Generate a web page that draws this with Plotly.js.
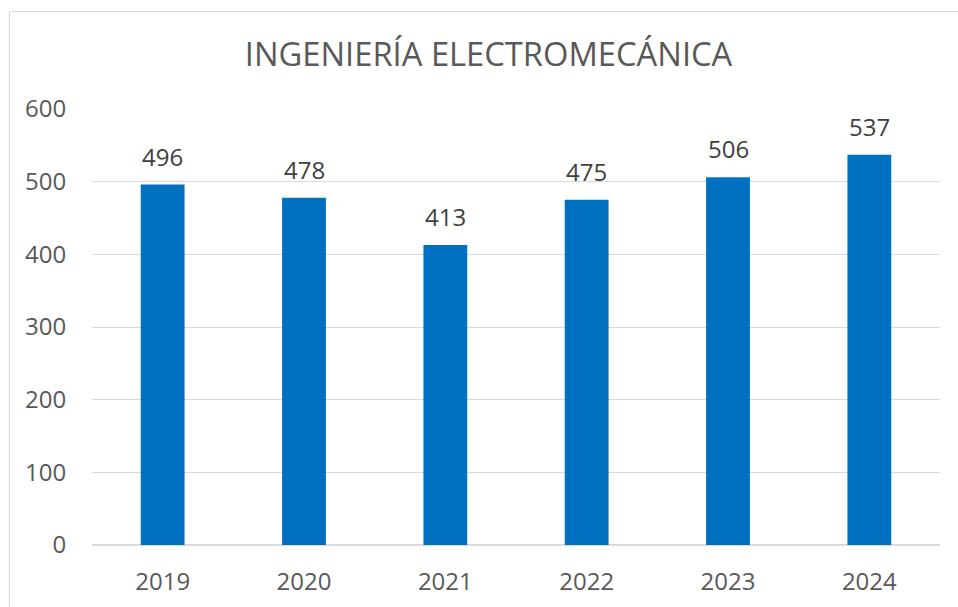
<!DOCTYPE html>
<html><head><meta charset="utf-8">
<script src="https://cdn.plot.ly/plotly-3.0.1.min.js"></script>
<style>html,body{margin:0;padding:0;background:#fff;overflow:hidden}
#frame{position:absolute;left:9px;top:11px;width:1000px;height:700px;border:1px solid #d9d9d9;pointer-events:none;box-sizing:border-box}
</style></head>
<body><div id="chart" style="width:958px;height:607px;"></div><div id="frame"></div>
<script>
const years = ['2019','2020','2021','2022','2023','2024'];
const students = [496, 478, 413, 475, 506, 537];
const titleText = 'INGENIERÍA ELECTROMECÁNICA';
const yTicks = [0,100,200,300,400,500,600];

const labels = years.map((yr, i) => ({
  x: i, y: students[i], xref:'x', yref:'y',
  text: String(students[i]), showarrow:false,
  yanchor:'bottom', yshift:10,
  font:{family:'Open Sans', size:24, color:'#404040'}
}));

Plotly.newPlot('chart', [{
  type:'bar', x: years, y: students,
  marker:{color:'#0070C0'},
  width:0.31,
  hoverinfo:'none'
}], {
  width:958, height:607,
  margin:{l:92, r:18, t:109, b:62},
  paper_bgcolor:'#fff', plot_bgcolor:'#fff',
  font:{family:'Open Sans', color:'#595959'},
  title:{text:titleText, x:0.51, xanchor:'center', y:0.91, yanchor:'middle', font:{family:'Open Sans', size:32.7, color:'#595959'}},
  xaxis:{type:'category', range:[-0.5,5.5], tickfont:{size:24, color:'#595959'}, showgrid:false, showline:false, ticks:'outside', ticklen:15, tickcolor:'rgba(0,0,0,0)'},
  yaxis:{range:[0,600], tickvals:yTicks, tickfont:{size:24, color:'#595959'}, gridcolor:'#d9d9d9', gridwidth:1, zeroline:true, zerolinecolor:'#d9d9d9', zerolinewidth:1.5, showline:false, ticks:'outside', ticklen:20, tickcolor:'rgba(0,0,0,0)'},
  annotations: labels,
  showlegend:false
}, {staticPlot:true});
</script></body></html>
